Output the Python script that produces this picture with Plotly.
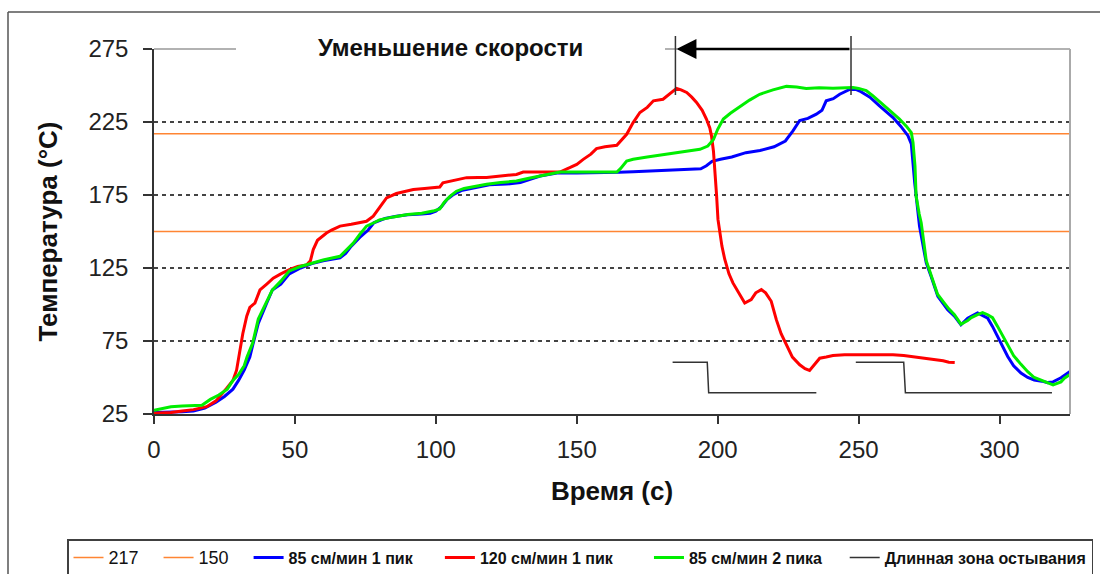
import plotly.graph_objects as go

# ---------------- data (time s, temperature °C) ----------------
blue_points = [(0, 26), (5, 26), (10, 26.5), (14, 27), (18, 29), (22, 33), (25, 37), (28, 42), (30, 48), (32, 55),
               (34, 64), (35, 72), (37, 87), (40, 101), (42, 110), (45, 114), (48, 121), (52, 125), (56, 128), (60, 130),
               (64, 131), (66, 132), (68, 135), (70, 140), (73, 146), (76, 151), (78, 156), (82, 159), (86, 160.5),
               (90, 161.5), (95, 162), (98, 162.5), (100, 164), (102, 167), (104, 172), (106, 175), (109, 178), (114, 180),
               (119, 182), (125, 182.5), (130, 183.5), (134, 186), (137, 188), (140, 189), (143, 190), (150, 190),
               (158, 190), (165, 190.5), (170, 191), (175, 191.5), (180, 192), (185, 192.2), (190, 192.6), (194, 193),
               (196, 195), (198, 198), (201, 199.5), (205, 201), (210, 204), (215, 205.5), (220, 208), (222, 209.8),
               (224, 212), (226.7, 218.9), (229.1, 226), (232, 227.5), (235, 230.4), (237, 233), (238.5, 239.5),
               (241, 241), (243.3, 244), (246.8, 247.3), (249, 247.3), (250.4, 246.2), (254, 242), (257.4, 236),
               (260, 232), (262.2, 228), (265, 222), (267.5, 215.6), (268.7, 210), (269.9, 183.4), (271.6, 153.7),
               (273, 138), (274, 128.5), (275.7, 119.4), (278.1, 105.6), (281.6, 96.4), (284, 92), (286.3, 86.1),
               (288.7, 90.6), (292.2, 94.2), (295.8, 90.6), (297.5, 85), (299.3, 78), (301, 71), (302.9, 64.4),
               (305, 58), (307.6, 53), (310, 50), (312.3, 48.3), (315, 47.5), (317.1, 46.5), (319, 47),
               (321.8, 49.8), (325, 54.1)]

green_points = [(0, 27.5), (3, 29), (6, 30), (10, 30.5), (15, 31), (17, 31), (20, 35), (23, 38), (26, 42), (28, 48),
                (30, 52), (32, 58), (33, 64), (35, 73.5), (37, 90), (40, 102), (42, 110), (45, 116), (48, 123), (52, 126),
                (56, 128.5), (60, 130.5), (66, 133), (68, 137), (70.7, 142), (73, 148), (75.4, 153.7), (78, 156),
                (80, 158), (85, 160), (90, 161.7), (95, 162.5), (99, 164), (101.4, 165.5), (103, 170), (105, 174),
                (107.3, 177.6), (110, 179.5), (114, 181), (118, 182.3), (123, 183.5), (128.6, 184.6), (133, 186.5),
                (139.3, 189), (144, 190.7), (164.2, 190.7), (165.5, 193), (167.7, 198.3), (170, 199.5), (175, 201),
                (182, 202.9), (188, 204.5), (193.7, 206.3), (196.5, 208.5), (198.5, 213), (200, 220), (202, 227),
                (204.5, 231), (207.8, 235.5), (211.3, 240), (214.9, 244), (219.6, 247), (224.4, 249.4), (228, 249),
                (231.4, 248), (236, 248.5), (240.9, 248.2), (245, 248.5), (248, 248.7), (250, 248), (252.7, 246.5),
                (255, 243), (258.6, 237.2), (261, 233), (264.5, 227), (267, 222), (268.7, 217.8), (269.3, 211),
                (270, 195), (270.4, 174.3), (271.5, 162), (272.2, 156), (274, 130), (276, 119), (278, 107), (280, 102),
                (282, 97), (284, 93), (286.3, 86.5), (288.7, 89), (290, 91), (292.2, 93), (294, 94.5), (295.8, 93),
                (297.5, 91), (299.3, 85), (301, 79), (303, 73), (305, 65), (307.6, 59), (310, 54), (312.3, 50),
                (315, 48), (317, 46), (319, 45), (321.8, 47), (323, 49.5), (325, 52)]

red_points = [(0, 25.5), (3, 25.5), (6, 26), (10, 27), (14, 28), (18.7, 30), (22, 34), (25.8, 42.6), (28, 48), (29.3, 55),
              (30.5, 69), (31.5, 80), (32.9, 92), (34, 98), (35.8, 101), (37.6, 110), (40, 114), (42.3, 118), (45, 121),
              (48.2, 124), (51, 126), (54.1, 127), (55.5, 130), (56.5, 137.6), (58, 144), (61.2, 149), (63, 151),
              (66, 153.7), (70, 155), (75.4, 157), (77.8, 160.5), (80, 166), (82.5, 173), (86, 176), (89.6, 177.7),
              (92, 178.8), (96, 179.5), (99, 180), (101.4, 180.5), (102.5, 183.4), (106, 185), (110.9, 186.9),
              (115, 187), (118, 187), (123, 188), (128.6, 189.1), (131, 190.7), (136, 190.7), (140, 190.7),
              (144, 190.7), (147.5, 193.7), (150, 196), (152.3, 199.4), (155, 203), (157, 206.8), (160, 208),
              (164.2, 209), (166, 213), (167.7, 216.6), (170, 224.6), (172.4, 231.5), (175, 235), (177.2, 239.5),
              (180.6, 240.6), (183, 244), (185.4, 248), (187, 247), (189, 245.2), (190.8, 242), (192.5, 238.4),
              (194.5, 233), (196, 227), (197.2, 221), (197.8, 215.5), (198.5, 205), (199, 192.6), (199.6, 175),
              (200.1, 158.3), (200.7, 149), (201.5, 140), (202.5, 131), (204, 121), (205.4, 114.8), (207.5, 108),
              (209.6, 101), (211.9, 103.3), (213.5, 108), (215.5, 110.2), (217, 108), (219, 102.2), (220.8, 89.6),
              (222.5, 80), (224.4, 72.4), (226.5, 64), (229.1, 58.7), (231, 56), (232.6, 54.8), (234, 58),
              (236.2, 63.2), (238.5, 64), (240.9, 65), (245, 65.5), (250.4, 65.5), (256, 66), (262.2, 65.5),
              (266, 65), (270.5, 64), (276.4, 62.2), (280, 61.5), (282, 60.5), (284.1, 60.3)]

blue_x = [p[0] for p in blue_points]
blue_y = [p[1] for p in blue_points]
green_x = [p[0] for p in green_points]
green_y = [p[1] for p in green_points]
red_x = [p[0] for p in red_points]
red_y = [p[1] for p in red_points]

cool_x = [184, 196.3, 196.8, 235, None, 249, 266, 266.6, 318.6]
cool_y = [60.5, 60.5, 39.6, 39.6, None, 60.5, 60.5, 39.6, 39.6]

limit_values = [217, 150]
x_range = [0, 325]
y_range = [25, 275]
x_ticks = [0, 50, 100, 150, 200, 250, 300]
y_ticks = [25, 75, 125, 175, 225, 275]
grid_values = [75, 125, 175, 225]
peak_times = [185, 247.3]

series_names = ["85 см/мин 1 пик", "120 см/мин 1 пик", "85 см/мин 2 пика", "Длинная зона остывания"]

# ---------------- figure ----------------
FONT = "Liberation Sans, Arial, sans-serif"
ORANGE = "#FF8533"
NB = "\u00a0"

def bold_name(text, pad):
    return "<b>%s</b>%s" % (text, NB * pad)

fig = go.Figure()
for v in limit_values:
    fig.add_trace(go.Scatter(x=x_range, y=[v, v], mode="lines",
                             name='<span style="font-size:18px">%s%s</span>' % (v, NB * 3),
                             line=dict(color=ORANGE, width=1.5)))
fig.add_trace(go.Scatter(x=blue_x, y=blue_y, mode="lines", name=bold_name(series_names[0], 5),
                         line=dict(color="#0000FF", width=3)))
fig.add_trace(go.Scatter(x=red_x, y=red_y, mode="lines", name=bold_name(series_names[1], 7),
                         line=dict(color="#FF0000", width=3)))
fig.add_trace(go.Scatter(x=green_x, y=green_y, mode="lines", name=bold_name(series_names[2], 4),
                         line=dict(color="#00EE00", width=3)))
fig.add_trace(go.Scatter(x=cool_x, y=cool_y, mode="lines", name=bold_name(series_names[3], 0),
                         line=dict(color="#333333", width=1.5), connectgaps=False))

# plot area: x 154..1070 px, y 49..414 px
L, R, T, B = 154, 1070, 49, 414
W, H = R - L, B - T
def px(xp):
    return (xp - L) / W
def py(yp):
    return (B - yp) / H

shapes = []
for g in grid_values:
    shapes.append(dict(type="line", xref="paper", yref="y", x0=0, x1=1, y0=g, y1=g,
                       line=dict(color="#444444", width=1.8, dash="4px,4px"), layer="below"))
for a, b in [(L, 236), (665, 677), (851, R)]:
    shapes.append(dict(type="line", xref="paper", yref="paper", x0=px(a), x1=px(b), y0=1, y1=1,
                       line=dict(color="#999999", width=1.5)))
shapes.append(dict(type="line", xref="paper", yref="paper", x0=1, x1=1, y0=0, y1=1,
                   line=dict(color="#AAAAAA", width=2)))
shapes.append(dict(type="line", xref="paper", yref="paper", x0=px(8), x1=px(1100), y0=py(12), y1=py(12),
                   line=dict(color="#555555", width=1.5)))
shapes.append(dict(type="line", xref="paper", yref="paper", x0=px(8), x1=px(8), y0=py(12), y1=py(574),
                   line=dict(color="#555555", width=1.5)))
for t in peak_times:
    shapes.append(dict(type="line", xref="x", yref="paper", x0=t, x1=t, y0=py(95), y1=py(36),
                       line=dict(color="#333333", width=1.5)))

annotations = [
    dict(x=peak_times[0], y=1.0, xref="x", yref="paper", ax=peak_times[1], ay=0,
         axref="x", ayref="pixel", showarrow=True, arrowhead=2, arrowsize=1.6,
         arrowwidth=2.5, arrowcolor="#000000", text="", standoff=1),
    dict(x=px(450), y=py(47), xref="paper", yref="paper", xanchor="center", yanchor="middle",
         showarrow=False, text="<b>Уменьшение скорости</b>",
         font=dict(family=FONT, size=24, color="#111111")),
]

fig.update_layout(
    width=1100, height=574,
    margin=dict(l=L, r=1100 - R, t=T, b=574 - B, autoexpand=False),
    paper_bgcolor="white", plot_bgcolor="white",
    shapes=shapes, annotations=annotations,
    font=dict(family=FONT, color="#222222"),
    showlegend=True,
    legend=dict(orientation="h", x=px(67), y=py(539), xanchor="left", yanchor="top",
                bordercolor="#404040", borderwidth=1.5, bgcolor="white",
                font=dict(family=FONT, size=16, color="#111111"),
                itemwidth=30, tracegroupgap=0),
)
fig.update_xaxes(range=x_range, tickvals=x_ticks, showgrid=False, zeroline=False,
                 showline=True, linecolor="#333333", linewidth=1.5,
                 ticks="outside", ticklen=8, tickwidth=1.5, tickcolor="#333333",
                 tickfont=dict(family=FONT, size=24, color="#222222"), ticklabelstandoff=5,
                 title=dict(text="<b>Время (с)</b>", font=dict(family=FONT, size=26, color="#111111"),
                            standoff=20))
fig.update_yaxes(range=y_range, tickvals=y_ticks, showgrid=False, zeroline=False,
                 showline=True, linecolor="#333333", linewidth=1.5,
                 ticks="outside", ticklen=9, tickwidth=1.5, tickcolor="#333333",
                 tickfont=dict(family=FONT, size=24, color="#222222"), ticklabelstandoff=10,
                 title=dict(text="<b>Температура (°C)</b>", font=dict(family=FONT, size=26, color="#111111"),
                            standoff=23))

fig.write_html("out.html")
